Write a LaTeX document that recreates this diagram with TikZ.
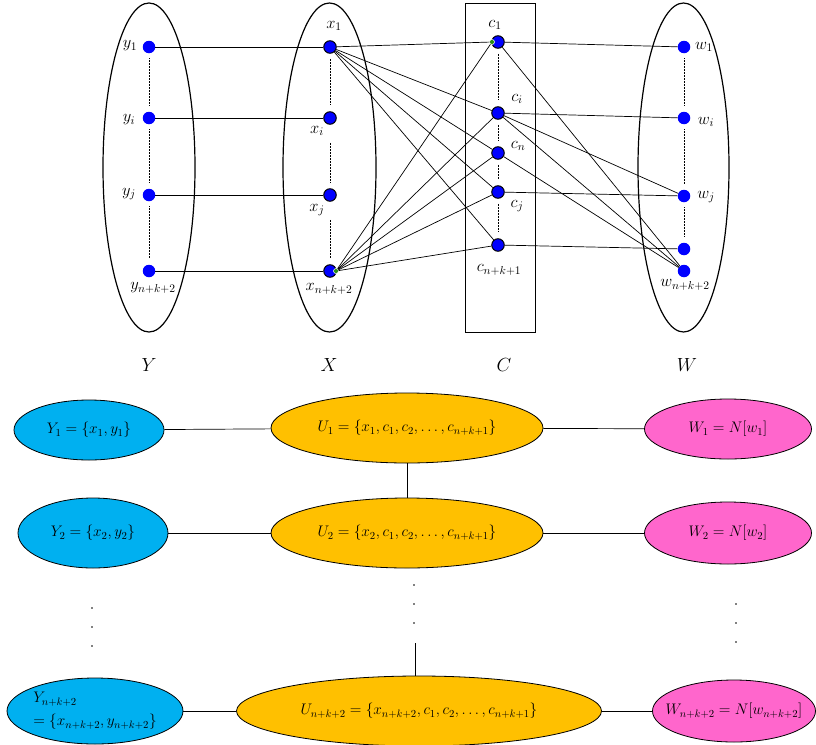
\RequirePackage{fix-cm}
\documentclass[tikz,border=0pt]{standalone}
\usetikzlibrary{shapes.geometric}
\definecolor{vblue}{RGB}{0,0,255}
\definecolor{yfill}{RGB}{0,176,240}
\definecolor{ufill}{RGB}{255,192,0}
\definecolor{wfill}{RGB}{255,102,204}
\definecolor{gdot}{RGB}{40,140,20}
\tikzset{
 vert/.style={circle,fill=vblue,minimum size=12.5pt,inner sep=0pt},
 vertb/.style={vert,draw=black,line width=1pt},
 grp/.style={ellipse,draw,line width=1.2pt,inner sep=0pt,minimum height=329pt},
 lab/.style={font=\fontsize{16.5}{18}\selectfont,inner sep=1pt},
 big/.style={font=\fontsize{19}{22}\selectfont,inner sep=1pt},
 edge/.style={line width=0.7pt},
 dts/.style={densely dotted,line width=0.5pt},
 bag/.style={ellipse,draw,line width=0.8pt,inner sep=0pt,font=\fontsize{15.3}{18}\selectfont},
 dotpt/.style={circle,fill=black,minimum size=1.6pt,inner sep=0pt},
 gpt/.style={circle,fill=gdot,draw=white,line width=0.5pt,minimum size=5pt,inner sep=0pt},
}
\begin{document}
\begin{tikzpicture}[x=1pt,y=-1pt]
\useasboundingbox (0,0) rectangle (816,744);
% groups
\node[grp,minimum width=92pt] (GY) at (149,167.5) {};
\node[grp,minimum width=93pt] (GX) at (329.5,167.5) {};
\node[draw,line width=0.9pt,minimum width=70pt,minimum height=329pt,inner sep=0pt] (GC) at (500,167.5) {};
\node[grp,minimum width=91pt] (GW) at (683.5,167.5) {};
% vertices
\node[vert] (y1) at (149,47) {};
\node[vert] (yi) at (149,118) {};
\node[vert] (yj) at (149,195) {};
\node[vert] (yn) at (149,271) {};
\node[vertb] (x1) at (330,47) {};
\node[vertb] (xi) at (330,118) {};
\node[vertb] (xj) at (330,195) {};
\node[vertb] (xn) at (330,271) {};
\node[vertb] (c1) at (498,42) {};
\node[vertb] (ci) at (498,113) {};
\node[vertb] (cn) at (498,153) {};
\node[vertb] (cj) at (498,192) {};
\node[vertb] (cl) at (498,245) {};
\node[vert] (w1) at (684,47) {};
\node[vert] (wi) at (684,118) {};
\node[vert] (wj) at (684,196) {};
\node[vert] (wu) at (684,249) {};
\node[vert] (wn) at (684,271) {};
\node[gpt] (g1) at (336,271) {};
\node[gpt] (g2) at (492,42) {};
% dotted columns
\foreach \a/\b in {y1/yi,yi/yj,yj/yn,x1/xi,w1/wi,wi/wj,wj/wu,c1/ci,ci/cn,cn/cj,cj/cl}
  \draw[dts,shorten <=5pt,shorten >=6pt] (\a) -- (\b);
\draw[dts,shorten <=18pt,shorten >=6pt] (xi) -- (xj);
\draw[dts,shorten <=18pt,shorten >=6pt] (xj) -- (xn);
% edges
\draw[edge] (y1) -- (x1);
\draw[edge] (yi) -- (xi);
\draw[edge] (yj) -- (xj);
\draw[edge] (yn) -- (xn);
\draw[edge] (x1) -- (g2);
\draw[edge] (g1) -- (g2);
\foreach \c in {ci,cn,cj,cl} {
  \draw[edge] (x1) -- (\c);
  \draw[edge] (g1) -- (\c);
}
\draw[edge] (c1) -- (w1);
\draw[edge] (c1) -- (wn);
\draw[edge] (ci) -- (wi);
\draw[edge] (ci) -- (wj);
\draw[edge] (ci) -- (wn);
\draw[edge] (cn) -- (wn);
\draw[edge] (cj) -- (wj);
\draw[edge] (cl) -- (wu);
% labels
\node[lab] (ly1) at (130,46) {$y_1$};
\node[lab] (lyi) at (129,120) {$y_i$};
\node[lab] (lyj) at (129,194) {$y_j$};
\node[lab] (lyn) at (153,288) {$y_{n+k+2}$};
\node[lab] (lx1) at (334,26) {$x_1$};
\node[lab] (lxi) at (317,131) {$x_i$};
\node[lab] (lxj) at (317,210) {$x_j$};
\node[lab] (lxn) at (329,289) {$x_{n+k+2}$};
\node[lab] (lc1) at (495,25) {$c_1$};
\node[lab] (lci) at (517,99) {$c_i$};
\node[lab] (lcn) at (518,146) {$c_n$};
\node[lab] (lcj) at (517,206) {$c_j$};
\node[lab] (lcl) at (499,270) {$c_{n+k+1}$};
\node[lab] (lw1) at (704,47) {$w_1$};
\node[lab] (lwi) at (706,122) {$w_i$};
\node[lab] (lwj) at (706,197) {$w_j$};
\node[lab] (lwn) at (685,285) {$w_{n+k+2}$};
\node[big] (LY) at (149,365) {$Y$};
\node[big] (LX) at (329,365) {$X$};
\node[big] (LC) at (504,365) {$C$};
\node[big] (LW) at (687,365) {$W$};
% bags
\node[bag,fill=yfill,minimum width=150pt,minimum height=60pt] (Y1) at (89,430) {$Y_1=\{x_1,y_1\}$};
\node[bag,fill=ufill,minimum width=272pt,minimum height=70pt] (U1) at (407,428) {$U_1=\{x_1,c_1,c_2,\dots,c_{n+k+1}\}$};
\node[bag,fill=wfill,minimum width=167pt,minimum height=60pt] (W1) at (728,429) {$W_1=N[w_1]$};
\node[bag,fill=yfill,minimum width=150pt,minimum height=70pt] (Y2) at (93,533) {$Y_2=\{x_2,y_2\}$};
\node[bag,fill=ufill,minimum width=272pt,minimum height=70pt] (U2) at (407,533) {$U_2=\{x_2,c_1,c_2,\dots,c_{n+k+1}\}$};
\node[bag,fill=wfill,minimum width=167pt,minimum height=62pt] (W2) at (728,533) {$W_2=N[w_2]$};
\node[bag,fill=yfill,minimum width=176pt,minimum height=66pt,align=left,font=\fontsize{15.3}{23}\selectfont] (Yn) at (95,711) {$Y_{n+k+2}$\\$=\{x_{n+k+2},y_{n+k+2}\}$};
\node[bag,fill=ufill,minimum width=365pt,minimum height=70pt] (Un) at (419,711) {$U_{n+k+2}=\{x_{n+k+2},c_1,c_2,\dots,c_{n+k+1}\}$};
\node[bag,fill=wfill,minimum width=163pt,minimum height=62pt,inner xsep=-25pt,inner ysep=-4pt] (Wn) at (734,711) {$W_{n+k+2}=N[w_{n+k+2}]$};
\draw[edge] (Y1) -- (U1);
\draw[edge] (U1) -- (W1);
\draw[edge] (Y2) -- (U2);
\draw[edge] (U2) -- (W2);
\draw[edge] (Yn) -- (Un);
\draw[edge] (Un) -- (Wn);
\draw[edge] (U1) -- (U2);
\coordinate (um) at (415,643);
\draw[edge] (um) -- (um |- Un.north);
% vertical dots
\foreach \i/\p in {1/608,2/627,3/646} \node[dotpt] (dl\i) at (92,\p) {};
\foreach \i/\p in {1/585,2/604,3/623} \node[dotpt] (dm\i) at (414,\p) {};
\foreach \i/\p in {1/604,2/623,3/642} \node[dotpt] (dr\i) at (736,\p) {};
\end{tikzpicture}
\end{document}
